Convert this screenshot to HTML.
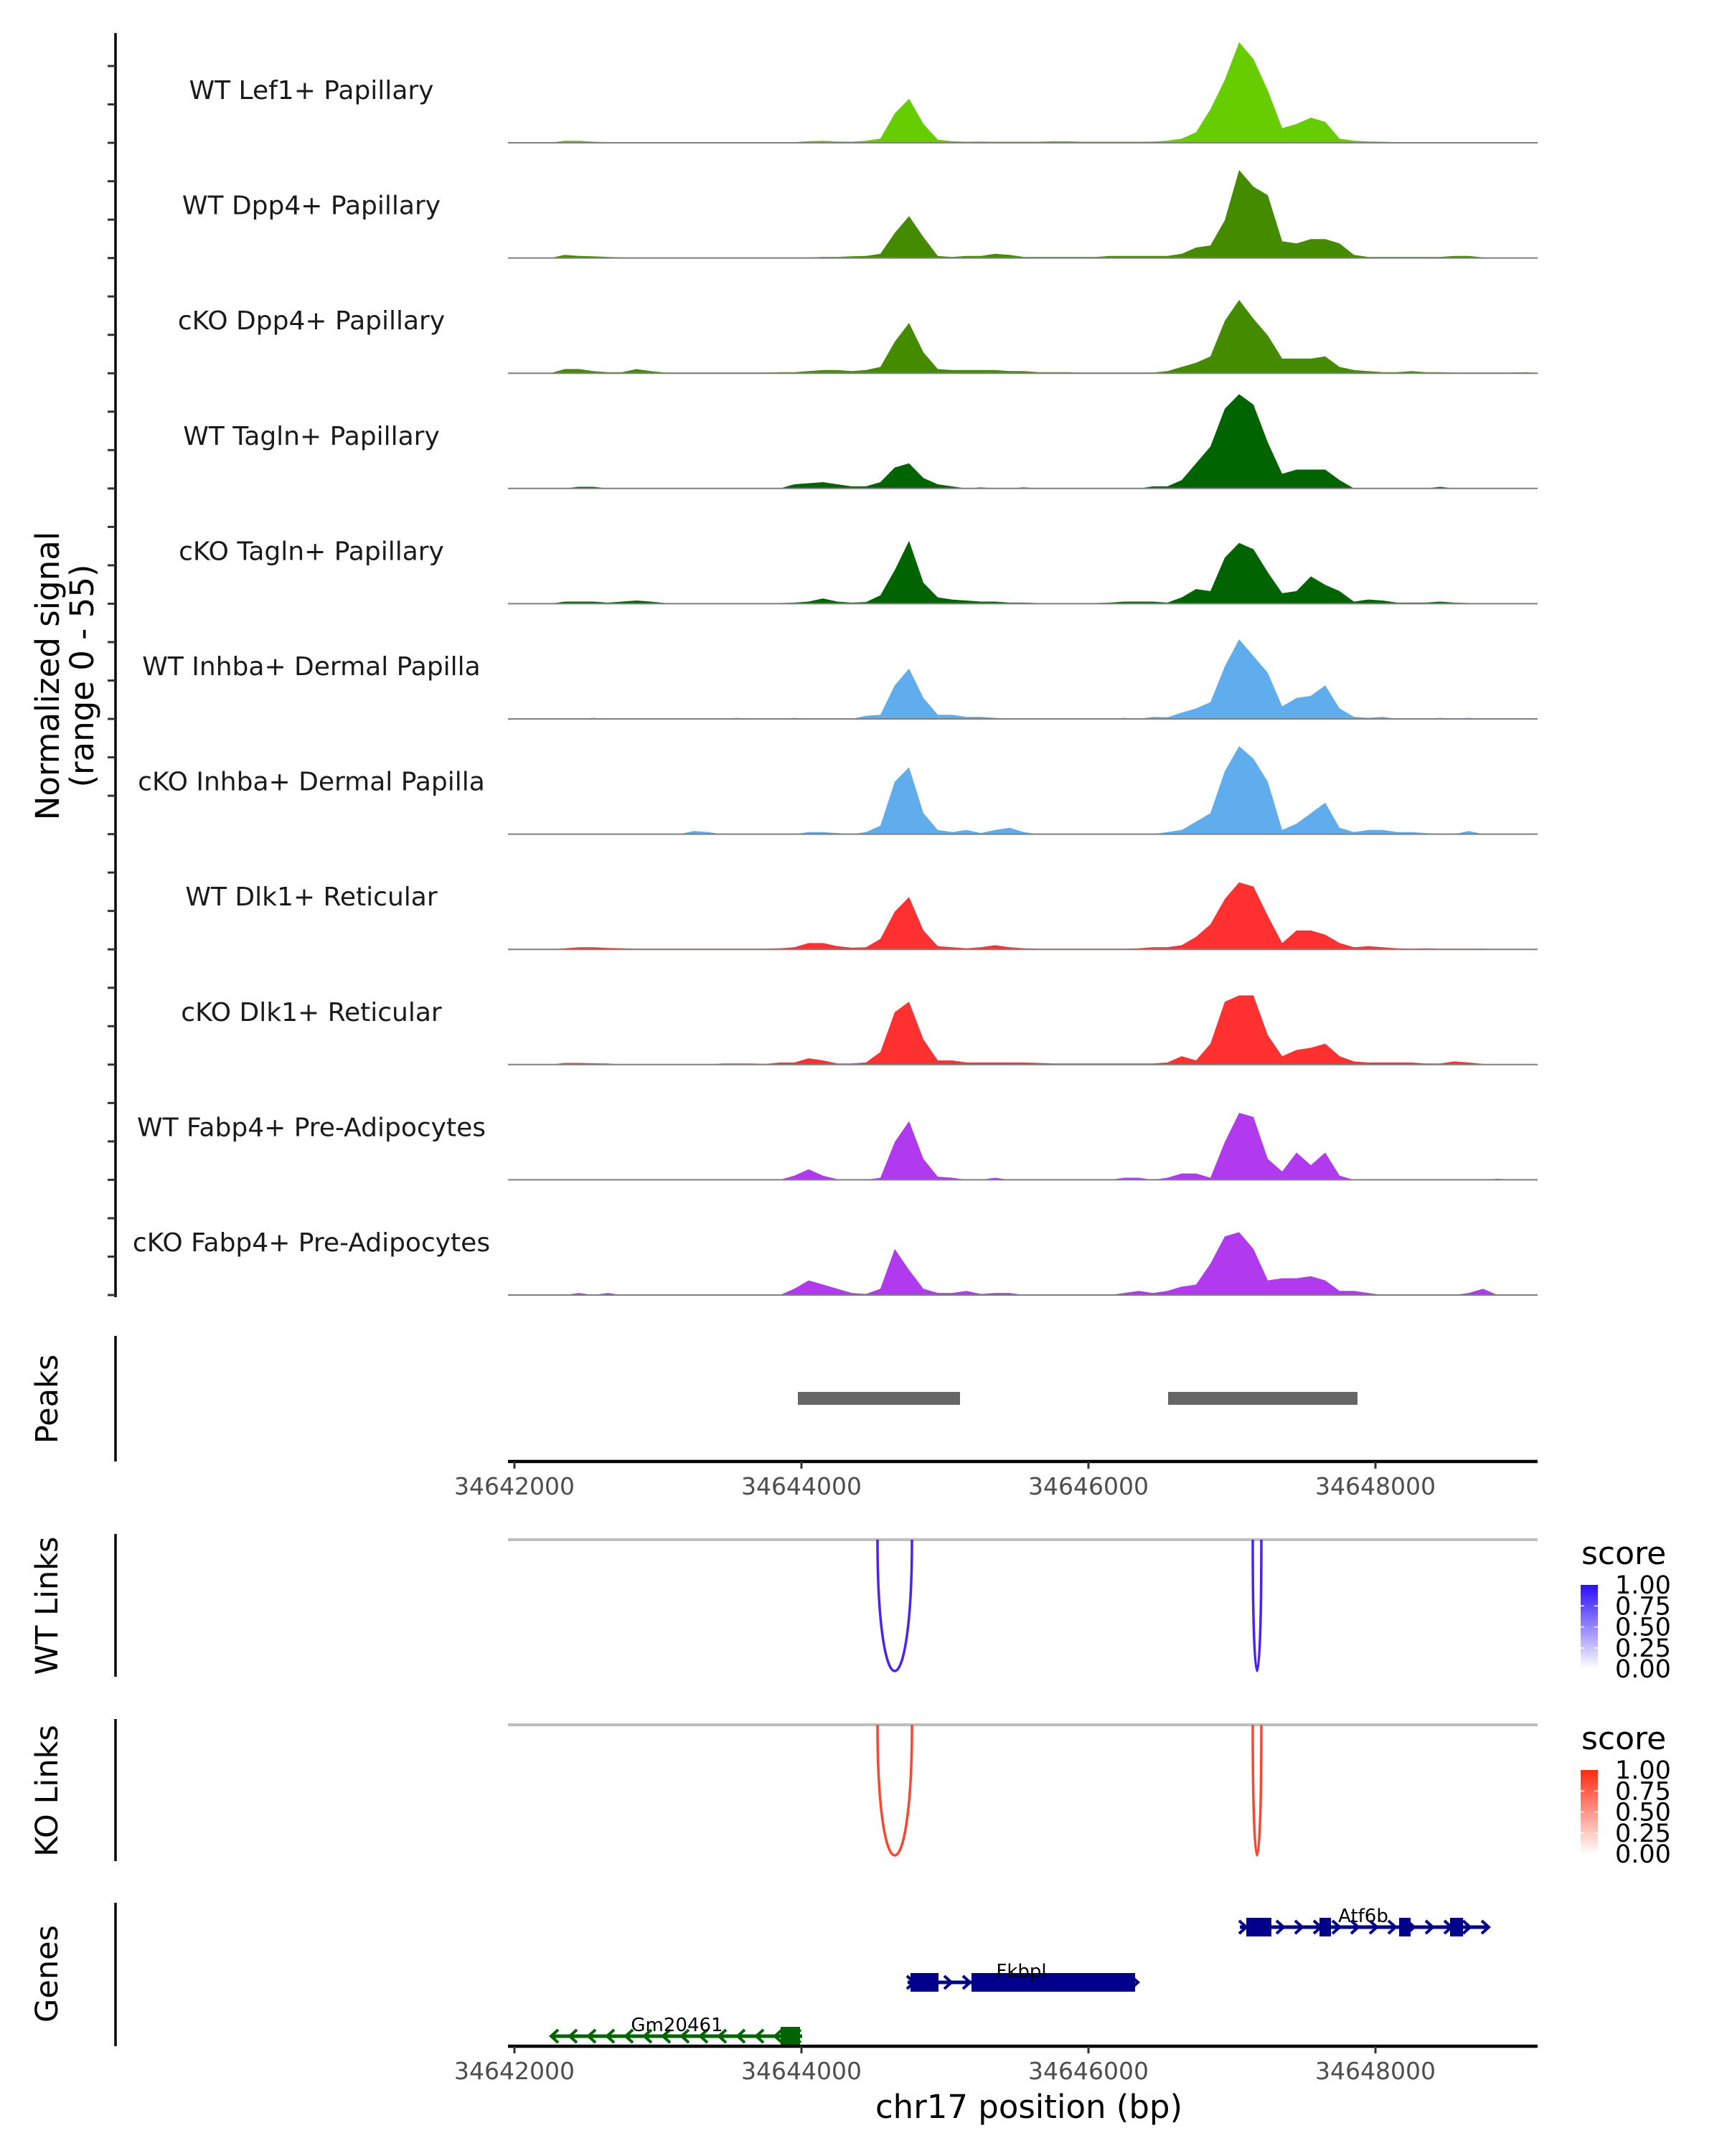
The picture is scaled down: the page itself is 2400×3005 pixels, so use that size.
<!DOCTYPE html>
<html><head><meta charset="utf-8"><style>
html,body{margin:0;padding:0;background:#fff;}
svg text{font-family:"DejaVu Sans","Liberation Sans",sans-serif;}
</style></head><body>
<svg id="chart" xmlns="http://www.w3.org/2000/svg" width="2400" height="3000" viewBox="0 0 2400 3000">
<rect x="0" y="0" width="2400" height="3000" fill="#fff"/>
<g id="tracks"></g>
<g id="peaks"></g>
<g id="links"></g>
<g id="genes"></g>
<g id="axes"></g>
</svg>
<script>
const trackNames = ["WT Lef1+ Papillary","WT Dpp4+ Papillary","cKO Dpp4+ Papillary","WT Tagln+ Papillary","cKO Tagln+ Papillary","WT Inhba+ Dermal Papilla","cKO Inhba+ Dermal Papilla","WT Dlk1+ Reticular","cKO Dlk1+ Reticular","WT Fabp4+ Pre-Adipocytes","cKO Fabp4+ Pre-Adipocytes"];
const binStart = 34642000;
const binSize = 100;
const sigLef1WT = [0,0,0,1,1,0.5,0.3,0.3,0.3,0.3,0.3,0.3, 0.3,0.3,0.3,0.3,0.3,0.3,0.3,0.3,0.8,1,0.6,0.5, 1,2,14,21,9,1.5,0.8,0.5,0.6,0.5,0.5,0.5, 0.5,0.8,0.8,0.5,0.5,0.5,0.5,0.5,0.6,1,2,5, 16,30,48,40,25,7,9,12,10,2,1,0.6, 0.5,0.3,0.3,0.3,0.3,0.3,0.3,0.3,0.3,0.3,0.3,0];
const sigDpp4WT = [0,0,0,1.5,1,0.8,0.5,0.3,0.3,0.3,0.3,0.3, 0.3,0.3,0.3,0.3,0.3,0.3,0.3,0.3,0.3,0.5,0.5,0.8, 1,2,12,20,10,1,0.5,1,1,2,1.5,0.5, 0.5,0.5,0.5,0.5,0.5,1,1,1,1,1,2,5, 6,18,42,34,30,8,7,9,9,7,1.5,0.5, 0.5,0.5,0.5,0.5,0.5,1,1,0.3,0,0,0,0];
const sigDpp4KO = [0,0,0,2,2,1,0.5,0.5,2,1,0.3,0.3, 0.3,0.3,0.3,0.3,0.3,0.3,0.5,0.5,1,1.5,1.5,1, 1.5,3,15,24,10,2,1.5,1.5,1.5,1.5,1,1, 0.5,0.5,0.5,0.3,0.3,0.3,0.3,0.3,0.3,1,3,5, 8,25,35,26,18,7,7,7,8,3,1.5,1, 0.5,0.5,1,0.5,0.5,0.3,0.3,0.3,0.3,0.3,0.5,0];
const sigTaglnWT = [0,0,0,0,0.8,0.8,0,0,0,0,0,0, 0,0,0,0,0,0,0,2,2.5,3,2,1, 1,3,10,12,5,2,1,0,0.5,0,0,0.5, 0,0,0,0,0,0,0,0,1,1,4,12, 20,38,45,40,22,7,9,9,9,4,0,0, 0,0,0,0,0.8,0,0,0,0,0,0,0];
const sigTaglnKO = [0,0,0,1,1,1,0.5,1,1.5,1,0.3,0.3, 0.3,0.3,0.3,0.3,0.3,0.3,0.3,0.5,1,2.5,1,0.5, 0.8,4,16,30,10,3,2,1.5,1,1,0.5,0.5, 0.3,0.3,0.3,0.3,0.3,0.5,1,1,1,0.5,3,7, 6,22,29,26,15,5,6,13,9,6,1,2, 1.5,0.5,0.5,0.5,1,0.5,0.3,0,0,0,0,0];
const sigInhbaWT = [0,0,0,0,0,0.5,0,0,0,0,0,0, 0,0,0,0.5,0,0,0,0.5,0,0,0,0, 1.5,2,16,24,10,2,2,1,1,0.5,0,0, 0,0,0,0,0,0,0.5,0,1,0.8,3,5, 8,25,38,30,22,6,10,11,16,5,1,0.5, 1,0,0,0,0.5,0,0.5,0,0,0,0,0];
const sigInhbaKO = [0,0,0,0,0,0,0,0,0,0,0,0, 1.5,1,0,0,0,0,0,0,1,1,0.5,0, 1,4,25,32,10,2,1,2,0.5,2,3,1, 0,0,0,0,0,0,0,0,0,1,2,6, 10,30,42,36,25,2,5,10,15,3,1,2, 2,1,1,0.5,0,0,1.5,0,0,0,0,0];
const sigDlk1WT = [0,0,0,0.5,1,1,0.7,0.5,0.3,0.3,0.3,0.3, 0.3,0.3,0.3,0.3,0.3,0.3,0.5,1,3,3,1.5,0.8, 1,5,18,25,9,1.5,1,0.5,1,2,1,0.5, 0.3,0.3,0.3,0.3,0.3,0.3,0.3,0.5,1,1,2,6, 12,24,32,30,16,3,9,9,7,3,1,1.5, 1,0.5,0.3,0.5,0.3,0.3,0.3,0.3,0,0,0,0];
const sigDlk1KO = [0,0,0,0.8,0.8,0.6,0.5,0,0,0,0,0, 0,0,0.5,0.5,0.5,0.3,1,1,3,2,0.5,0.5, 1,6,25,30,12,2,2,1,1,1,1,1, 0.8,0.5,0.5,0.5,0.5,0.5,0.5,0.5,0.5,1,4,2, 10,30,33,33,14,4,7,8,10,4,1.5,1, 1,1,1,0.5,0.5,1.5,1,0.3,0,0,0,0];
const sigFabp4WT = [0,0,0,0,0,0,0,0,0,0,0,0, 0,0,0,0,0,0,0,2,5,2,0.3,0, 0,1,18,28,10,1.5,1,0,0,1,0,0, 0,0,0,0,0,0,1,1,0,1,3,3, 1,18,32,30,10,4,13,7,13,2,0,0, 0,0,0,0,0,0,0,0,0.5,0,0,0];
const sigFabp4KO = [0,0,0,0,1,0,1,0,0,0,0,0, 0,0,0,0,0,0,0,3,7,5,3,1, 0.5,3,22,12,3,1,1,2,0.5,1,1,0, 0,0,0,0,0,0,1,2,1,2,4,5, 15,28,30,22,7,8,8,9,7,2,2,1, 0,0,0,0,0,0,1,3,0,0,0,0];
const trackSignals = [sigLef1WT,sigDpp4WT,sigDpp4KO,sigTaglnWT,sigTaglnKO,sigInhbaWT,sigInhbaKO,sigDlk1WT,sigDlk1KO,sigFabp4WT,sigFabp4KO];
const trackColors = ["#66CD00","#458B00","#458B00","#006400","#006400","#5FADEC","#5FADEC","#FF3030","#FF3030","#B23AEE","#B23AEE"];
const signalMax = 55;
const xTicks = [34642000,34644000,34646000,34648000];
const peakStarts = [34643975,34646555];
const peakEnds = [34645105,34647875];
const wtLinkStarts = [34644530,34647145];
const wtLinkEnds = [34644770,34647205];
const koLinkStarts = [34644530,34647145];
const koLinkEnds = [34644770,34647205];
const legendTicks = ["1.00","0.75","0.50","0.25","0.00"];
const geneNames = ["Atf6b","Fkbpl","Gm20461"];
const geneStarts = [34647055,34644740,34642260];
const geneEnds = [34648775,34646325,34644005];
const geneStrands = [1,1,-1];
const geneExonStarts = [[34647100,34647610,34648165,34648520],[34644760,34645185],[34643855]];
const geneExonEnds = [[34647275,34647690,34648245,34648610],[34644955,34646325],[34643990]];

const NS="http://www.w3.org/2000/svg";
const bpMin=34641955, bpMax=34649130, pxMin=708, pxMax=2143;
function xs(bp){return pxMin+(bp-bpMin)*(pxMax-pxMin)/(bpMax-bpMin);}
function mk(tag,attrs,parent){const e=document.createElementNS(NS,tag);for(const k in attrs)e.setAttribute(k,attrs[k]);parent.appendChild(e);return e;}
const G=id=>document.getElementById(id);

const base0=199, trackH=160.6;
trackNames.forEach((nm,i)=>{
  const base=base0+i*trackH;
  const g=mk('g',{},G('tracks'));
  
  
  const sig=trackSignals[i];
  let d='M'+xs(binStart).toFixed(1)+','+base;
  sig.forEach((v,k)=>{const bp=binStart+k*binSize+binSize/2;d+=' L'+xs(bp).toFixed(1)+','+(base-v/signalMax*trackH).toFixed(1);});
  d+=' L'+xs(binStart+sig.length*binSize).toFixed(1)+','+base+' Z';
  const p=mk('path',{d:d,fill:trackColors[i]},g);
  
  
  const bl=mk('line',{x1:pxMin,x2:pxMax,y1:base,y2:base,stroke:'#7f7f7f','stroke-width':2},g);
  
  
  const t=mk('text',{x:434,y:base-71,'font-size':36,'text-anchor':'middle','dominant-baseline':'middle',fill:'#1a1a1a'},g);
  t.textContent=nm;
  
  
});

const ax=G('axes');
let l=mk('line',{x1:161,x2:161,y1:46,y2:1808,stroke:'#000','stroke-width':3.5},ax);


for(let j=0;j<=32;j++){
  const y=1805-j*(1805-92)/32;
  const tk=mk('line',{x1:150,x2:161,y1:y,y2:y,stroke:'#333','stroke-width':3},ax);
  
  
}
let yt=mk('text',{transform:'translate(82,942) rotate(-90)','font-size':45,'text-anchor':'middle',fill:'#000'},ax);
yt.textContent='Normalized signal';


let yt2=mk('text',{transform:'translate(130,942) rotate(-90)','font-size':45,'text-anchor':'middle',fill:'#000'},ax);
yt2.textContent='(range 0 - 55)';



function panelLabel(txt,cy,y1,y2,name){
  const t=mk('text',{transform:'translate(80,'+cy+') rotate(-90)','font-size':43,'text-anchor':'middle',fill:'#000'},ax);
  t.textContent=txt;
  
  
  const ln=mk('line',{x1:161,x2:161,y1:y1,y2:y2,stroke:'#000','stroke-width':3.5},ax);
  
  
}
panelLabel('Peaks',1950,1862,2037,'peaks');
panelLabel('WT Links',2238,2138,2337,'wt-links');
panelLabel('KO Links',2496,2396,2594,'ko-links');
panelLabel('Genes',2751,2652,2852,'genes');

function xAxis(y,name){
  const a=mk('line',{x1:pxMin,x2:pxMax,y1:y,y2:y,stroke:'#000','stroke-width':4.5},ax);
  
  
  xTicks.forEach(v=>{
    const tk=mk('line',{x1:xs(v),x2:xs(v),y1:y,y2:y+10,stroke:'#333','stroke-width':3},ax);
    
    
    const tl=mk('text',{x:xs(v),y:y+46,'font-size':33,'text-anchor':'middle',fill:'#4d4d4d'},ax);
    tl.textContent=String(v);
    
    
  });
}
xAxis(2037,'peaks-x-axis');
xAxis(2852,'genes-x-axis');
let xt=mk('text',{x:1434,y:2952,'font-size':45,'text-anchor':'middle',fill:'#000'},ax);
xt.textContent='chr17 position (bp)';



peakStarts.forEach((s,i)=>{
  const r=mk('rect',{x:xs(s),y:1940,width:xs(peakEnds[i])-xs(s),height:18,fill:'#666666'},G('peaks'));
  
  
});

function linkPanel(top,bottom,starts,ends,color,gradTop,name){
  const g=mk('g',{},G('links'));
  
  
  const cid='clip-'+name;
  const cp=mk('clipPath',{id:cid},g);
  mk('rect',{x:pxMin,y:top,width:pxMax-pxMin,height:bottom-top+6},cp);
  const hl=mk('line',{x1:pxMin,x2:pxMax,y1:top,y2:top,stroke:'#bebebe','stroke-width':4},g);
  
  
  starts.forEach((s,i)=>{
    const x1=xs(s),x2=xs(ends[i]);const B=top+(bottom-top)/0.75;
    const p=mk('path',{d:'M'+x1+','+top+' C'+x1+','+B+' '+x2+','+B+' '+x2+','+top,fill:'none',stroke:color,'stroke-width':3.5,'clip-path':'url(#'+cid+')'},g);
    
    
  });
  const gid='grad-'+name;
  const lg=mk('linearGradient',{id:gid,x1:0,y1:0,x2:0,y2:1},g);
  mk('stop',{offset:0,'stop-color':gradTop},lg);
  mk('stop',{offset:1,'stop-color':'#ffffff'},lg);
  const st=mk('text',{x:2204,y:top+34,'font-size':44,fill:'#000'},g);
  st.textContent='score';
  
  
  const by=top+63;
  const bar=mk('rect',{x:2203,y:by,width:24,height:117,fill:'url(#'+gid+')'},g);
  
  
  legendTicks.forEach((lab,j)=>{
    const y=by+j*29.3;
    if(j>0&&j<4){
      const tw=mk('line',{x1:2203,x2:2208,y1:y,y2:y,stroke:'#fff','stroke-width':1.5},g);
      
      
      const tw2=mk('line',{x1:2222,x2:2227,y1:y,y2:y,stroke:'#fff','stroke-width':1.5},g);
      
      
    }
    const t=mk('text',{x:2251,y:y+12,'font-size':35,fill:'#000'},g);
    t.textContent=lab;
    
    
  });
}
linkPanel(2146,2329,wtLinkStarts,wtLinkEnds,'#4B22F6','#2A0EFF','wt-links');
linkPanel(2404,2586,koLinkStarts,koLinkEnds,'#FF4430','#FF2A10','ko-links');

const geneRowY=[2686,2763,2838];
const geneColors=['#00008B','#00008B','#006400'];
geneNames.forEach((nm,i)=>{
  const g=mk('g',{},G('genes'));
  
  
  const y=geneRowY[i],c=geneColors[i];
  const a=xs(geneStarts[i]),b=xs(geneEnds[i]);
  const ln=mk('line',{x1:a,x2:b,y1:y,y2:y,stroke:c,'stroke-width':5},g);
  
  
  for(let x=a+4;x<=b;x+=26){
    const s=geneStrands[i];
    const ch=mk('path',{d:'M'+(x-5*s)+','+(y-9)+' L'+(x+5*s)+','+y+' L'+(x-5*s)+','+(y+9),fill:'none',stroke:c,'stroke-width':4},g);
    
    
  }
  geneExonStarts[i].forEach((s,j)=>{
    const r=mk('rect',{x:xs(s),y:y-13,width:xs(geneExonEnds[i][j])-xs(s),height:26,fill:c},g);
    
    
  });
  const t=mk('text',{x:(a+b)/2,y:y-7,'font-size':26,'text-anchor':'middle',fill:'#000'},g);
  t.textContent=nm;
  
  
});
</script>
</body></html>
